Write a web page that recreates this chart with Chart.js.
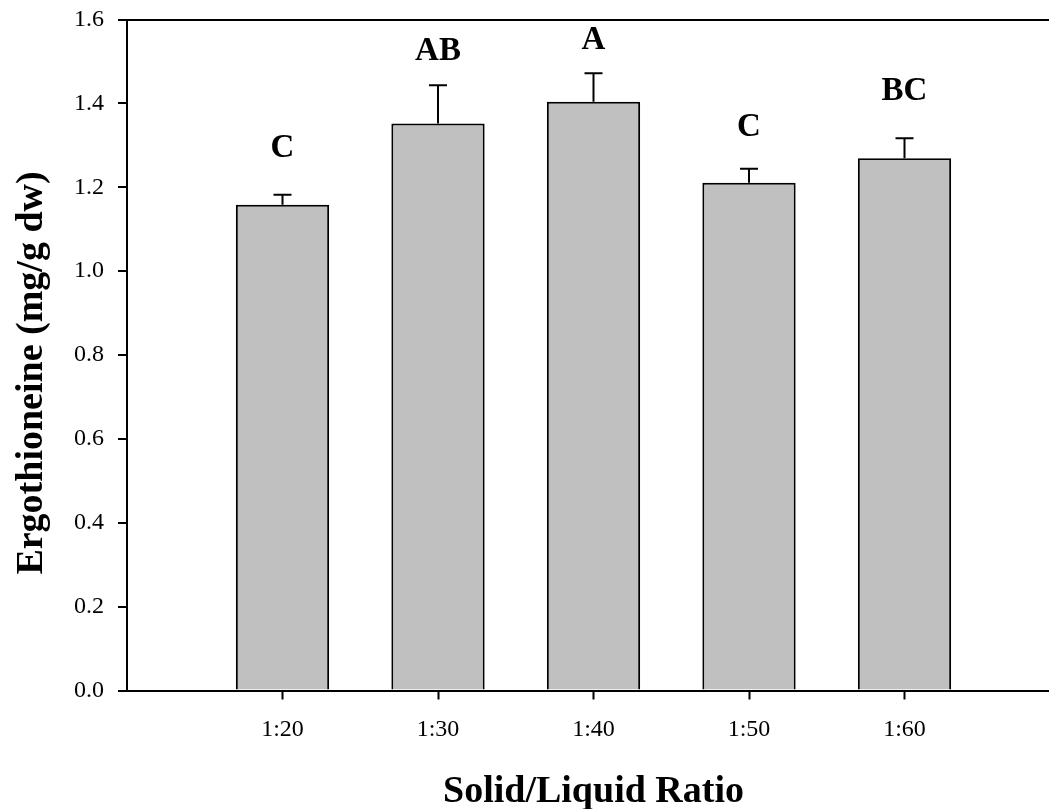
<!DOCTYPE html>
<html>
<head>
<meta charset="utf-8">
<script src="https://cdn.jsdelivr.net/npm/chart.js@4/dist/chart.umd.min.js"></script>
<style>
  html, body { margin: 0; padding: 0; background: #fff; overflow: hidden; }
  canvas { display: block; }
</style>
</head>
<body>
<canvas id="c" width="1070" height="809"></canvas>
<script>
// ---- data ----
const categories = ['', '1:20', '1:30', '1:40', '1:50', '1:60', ''];
const means      = [null, 1.158, 1.352, 1.404, 1.211, 1.269, null];
const errors     = [null, 0.024, 0.091, 0.068, 0.033, 0.048, null];
const letters    = ['', 'C', 'AB', 'A', 'C', 'BC', ''];
const letterAt   = [null, 1.293, 1.523, 1.551, 1.343, 1.429, null];
const yTicks     = [0, 0.2, 0.4, 0.6, 0.8, 1.0, 1.2, 1.4, 1.6];
const xTitle = 'Solid/Liquid Ratio';
const yTitle = 'Ergothioneine (mg/g dw)';

const SERIF = '"Liberation Serif", "Times New Roman", serif';

function zeroPad(scale) {
  scale.paddingTop = 0; scale.paddingBottom = 0;
  scale.paddingLeft = 0; scale.paddingRight = 0;
}

const overlay = {
  id: 'overlay',
  afterDatasetsDraw(chart) {
    const ctx = chart.ctx;
    const ys = chart.scales.y;
    const meta = chart.getDatasetMeta(0);
    ctx.save();
    ctx.strokeStyle = '#000';
    ctx.lineWidth = 2;
    meta.data.forEach((bar, i) => {
      if (means[i] == null) return;
      const x = bar.x;
      const yTop = ys.getPixelForValue(means[i]);
      const yErr = ys.getPixelForValue(means[i] + errors[i]);
      ctx.beginPath();
      ctx.moveTo(x, yTop);
      ctx.lineTo(x, yErr);
      ctx.moveTo(x - 9, yErr);
      ctx.lineTo(x + 9, yErr);
      ctx.stroke();
      ctx.fillStyle = '#000';
      ctx.font = 'bold 33px ' + SERIF;
      ctx.textAlign = 'center';
      ctx.textBaseline = 'middle';
      ctx.fillText(letters[i], x, ys.getPixelForValue(letterAt[i]));
    });
    const ca = chart.chartArea;
    ctx.fillStyle = '#000';
    ctx.font = 'bold 38px ' + SERIF;
    ctx.textAlign = 'center';
    ctx.textBaseline = 'alphabetic';
    ctx.fillText(xTitle, (ca.left + ca.right) / 2, 802);
    ctx.save();
    ctx.translate(42, 373);
    ctx.rotate(-Math.PI / 2);
    ctx.fillText(yTitle, 0, 0);
    ctx.restore();
    ctx.restore();
  }
};

new Chart(document.getElementById('c'), {
  type: 'bar',
  data: {
    labels: categories,
    datasets: [{
      data: means,
      backgroundColor: '#c0c0c0',
      borderColor: '#000',
      borderWidth: 2,
      borderSkipped: 'bottom',
      barPercentage: 0.6,
      categoryPercentage: 1.0
    }]
  },
  options: {
    responsive: false,
    animation: false,
    devicePixelRatio: 1,
    layout: { padding: { top: 19.5, right: 10, left: 0, bottom: 0 } },
    plugins: { legend: { display: false }, tooltip: { enabled: false } },
    scales: {
      x: {
        type: 'category',
        offset: false,
        grid: {
          offset: false,
          drawOnChartArea: false,
          drawTicks: true,
          tickLength: 9,
          tickWidth: 2,
          tickColor: (c) => (c.index === 0 || c.index === categories.length - 1) ? 'rgba(0,0,0,0)' : '#000'
        },
        border: { display: true, color: '#000', width: 2 },
        ticks: {
          color: '#000',
          font: { family: SERIF, size: 24 },
          padding: 16,
          maxRotation: 0,
          autoSkip: false
        },
        afterFit(scale) { scale.height = 118.5; zeroPad(scale); }
      },
      y: {
        min: 0,
        max: 1.6,
        afterBuildTicks(scale) { scale.ticks = yTicks.map(v => ({ value: v })); },
        grid: {
          drawOnChartArea: true,
          color: (c) => (c.tick && Math.abs(c.tick.value - 1.6) < 1e-6) ? '#000' : 'rgba(0,0,0,0)',
          lineWidth: 2,
          drawTicks: true,
          tickLength: 9,
          tickWidth: 2,
          tickColor: '#000'
        },
        border: { display: true, color: '#000', width: 2 },
        ticks: {
          color: '#000',
          font: { family: SERIF, size: 24 },
          padding: 14,
          callback: (v) => Number(v).toFixed(1)
        },
        afterFit(scale) { scale.width = 127; zeroPad(scale); }
      }
    }
  },
  plugins: [overlay]
});
</script>
</body>
</html>
